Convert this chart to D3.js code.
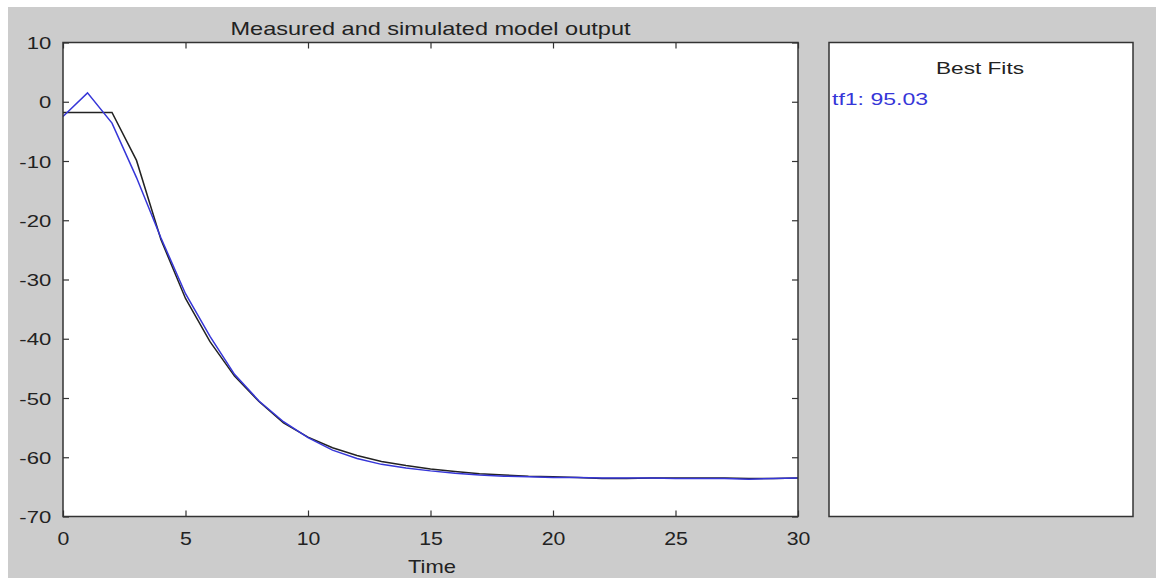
<!DOCTYPE html>
<html>
<head>
<meta charset="utf-8">
<script src="https://cdn.jsdelivr.net/npm/d3@7"></script>
<style>
  html, body { margin: 0; padding: 0; background: #fff; }
  svg { display: block; font-family: "Liberation Sans", Arial, sans-serif; }
</style>
</head>
<body>
<svg id="chart" width="1156" height="578"></svg>
<script>
// values, one sample per time step
let time = d3.range(0, 31);
let measured = [-1.8, -1.8, -1.8, -9.9, -23.3, -33.2, -40.5, -46.3, -50.6, -54.2,
    -56.6, -58.4, -59.7, -60.7, -61.4, -62.0, -62.4, -62.8, -63.0, -63.2,
    -63.3, -63.4, -63.6, -63.6, -63.5, -63.5, -63.5, -63.5, -63.6, -63.6, -63.5];
let simulated = [-2.5, 1.5, -3.6, -12.8, -23.0, -32.4, -39.6, -46.0, -50.5, -54.0,
    -56.7, -58.8, -60.2, -61.2, -61.8, -62.3, -62.7, -63.0, -63.2, -63.3,
    -63.4, -63.4, -63.5, -63.5, -63.5, -63.6, -63.6, -63.6, -63.7, -63.6, -63.5];
let xTicks = [0, 5, 10, 15, 20, 25, 30];
let yTicks = [10, 0, -10, -20, -30, -40, -50, -60, -70];
let fitLabel = "tf1: 95.03";

let svg = d3.select('#chart');
let width = +svg.attr('width');
let height = +svg.attr('height');
let axisColor = '#333';
let blue = '#3636d8';

// grey figure background
svg.append('rect')
    .attr('x', 8).attr('y', 7)
    .attr('width', width - 8).attr('height', height - 7)
    .attr('fill', '#cccccc');

let plot = { left: 63, right: 798, top: 42.5, bottom: 516.5 };
let panel = { left: 829, right: 1133 };

let x = d3.scaleLinear().domain([0, 30]).range([plot.left, plot.right]);
let y = d3.scaleLinear().domain([-70, 10]).range([plot.bottom, plot.top]);

svg.append('rect')
    .attr('x', plot.left).attr('y', plot.top)
    .attr('width', plot.right - plot.left).attr('height', plot.bottom - plot.top)
    .attr('fill', 'white');

// lines
let line = d3.line()
    .x((d, i) => x(time[i]))
    .y(d => y(d));

svg.append('path')
    .datum(measured)
    .attr('fill', 'none')
    .attr('stroke', '#222')
    .attr('stroke-width', 1.5)
    .attr('d', line);

svg.append('path')
    .datum(simulated)
    .attr('fill', 'none')
    .attr('stroke', blue)
    .attr('stroke-width', 1.5)
    .attr('d', line);

// axes with inward ticks on all four sides, plain hyphen for negatives
function styleAxis(g) {
    g.select('.domain').remove();
    g.selectAll('line').attr('stroke', axisColor).attr('stroke-width', 1.2);
}
let plain = d => String(d);

let bottomAxis = svg.append('g')
    .attr('transform', `translate(0,${plot.bottom})`)
    .call(d3.axisBottom(x).tickValues(xTicks).tickSize(-6).tickPadding(0).tickFormat(plain))
    .call(styleAxis);
bottomAxis.selectAll('text')
    .attr('y', 29)
    .attr('dy', null)
    .attr('fill', '#222')
    .attr('font-size', 19)
    .attr('transform', 'scale(1.12,1)');

svg.append('g')
    .attr('transform', `translate(0,${plot.top})`)
    .call(d3.axisTop(x).tickValues(xTicks).tickSize(-6).tickFormat(''))
    .call(styleAxis);

let leftAxis = svg.append('g')
    .attr('transform', `translate(${plot.left},0)`)
    .call(d3.axisLeft(y).tickValues(yTicks).tickSize(-6).tickPadding(0).tickFormat(plain))
    .call(styleAxis);
leftAxis.selectAll('text')
    .attr('x', -9)
    .attr('dy', '0.36em')
    .attr('fill', '#222')
    .attr('font-size', 17)
    .attr('transform', 'scale(1.3,1)');

svg.append('g')
    .attr('transform', `translate(${plot.right},0)`)
    .call(d3.axisRight(y).tickValues(yTicks).tickSize(-6).tickFormat(''))
    .call(styleAxis);

svg.append('rect')
    .attr('x', plot.left).attr('y', plot.top)
    .attr('width', plot.right - plot.left).attr('height', plot.bottom - plot.top)
    .attr('fill', 'none')
    .attr('stroke', axisColor)
    .attr('stroke-width', 1.5);

// titles
svg.append('text')
    .attr('x', (plot.left + plot.right) / 2 - 200)
    .attr('y', 35)
    .attr('font-size', 19)
    .attr('fill', '#222')
    .attr('textLength', 400)
    .attr('lengthAdjust', 'spacingAndGlyphs')
    .text('Measured and simulated model output');

svg.append('text')
    .attr('x', 408)
    .attr('y', 573)
    .attr('font-size', 19)
    .attr('fill', '#222')
    .attr('textLength', 48)
    .attr('lengthAdjust', 'spacingAndGlyphs')
    .text('Time');

// best fits panel
svg.append('rect')
    .attr('x', panel.left).attr('y', plot.top)
    .attr('width', panel.right - panel.left).attr('height', plot.bottom - plot.top)
    .attr('fill', 'white')
    .attr('stroke', axisColor)
    .attr('stroke-width', 1.5);

svg.append('text')
    .attr('x', 936)
    .attr('y', 74)
    .attr('font-size', 17)
    .attr('fill', '#222')
    .attr('textLength', 88)
    .attr('lengthAdjust', 'spacingAndGlyphs')
    .text('Best Fits');

svg.append('text')
    .attr('x', 832)
    .attr('y', 105)
    .attr('font-size', 17)
    .attr('fill', blue)
    .attr('textLength', 96)
    .attr('lengthAdjust', 'spacingAndGlyphs')
    .text(fitLabel);
</script>
</body>
</html>
